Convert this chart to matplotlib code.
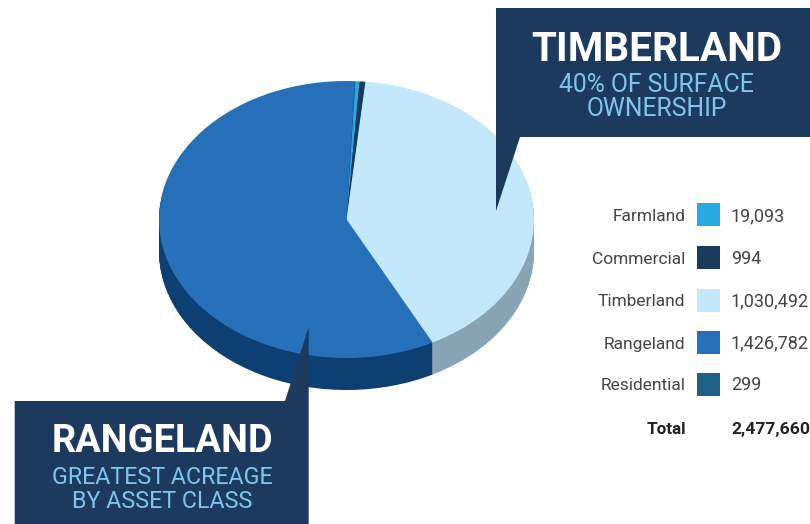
import matplotlib
matplotlib.use("Agg")
import matplotlib.pyplot as plt
import numpy as np
from matplotlib.patches import Polygon, Rectangle

# Legend table
categories = ["Farmland", "Commercial", "Timberland", "Rangeland", "Residential"]
acres_labels = ["19,093", "994", "1,030,492", "1,426,782", "299"]
total_label = "2,477,660"
# Slice sizes as drawn in the picture (degrees)
slice_degrees = [1.3, 1.8, 146.9, 209.9, 0.1]
top_colors = ["#27aae1", "#1c3a5e", "#c3e7fb", "#2670ba", "#1f6089"]
side_colors = ["#1a6f94", "#12263e", "#87a5b5", "#0e3f73", "#144060"]

W, H = 810, 524
NAVY = "#1c3a5e"
SUB = "#7fc4ec"
TXT = "#454545"
plt.rcParams["font.family"] = ["Roboto", "DejaVu Sans"]

fig = plt.figure(figsize=(W / 100, H / 100), dpi=100, facecolor="white")

# Pie axes: 1 data unit = rx px horizontally, ry px vertically
cx, cy, rx, ry, depth = 346.5, 219.5, 187.5, 138.5, 32
margin = 1.3
ax = fig.add_axes([(cx - margin * rx) / W, (H - cy - margin * ry) / H,
                   2 * margin * rx / W, 2 * margin * ry / H])
for px in range(depth, 0, -1):
    ax.pie(slice_degrees, colors=side_colors, startangle=87.3, counterclock=False,
           radius=1, center=(0, -px / ry), wedgeprops={"linewidth": 0})
ax.pie(slice_degrees, colors=top_colors, startangle=87.3, counterclock=False,
       radius=1, center=(0, 0), wedgeprops={"linewidth": 0})
ax.set_aspect("auto")
ax.set_xlim(-margin, margin)
ax.set_ylim(-margin, margin)
ax.axis("off")

# Overlay in pixel coordinates
ov = fig.add_axes([0, 0, 1, 1], facecolor="none")
ov.set_xlim(0, W)
ov.set_ylim(H, 0)
ov.axis("off")

ov.add_patch(Polygon([(496, 8), (810, 8), (810, 137), (520, 137), (496, 211)],
                     closed=True, fc=NAVY, ec="none"))
ov.add_patch(Polygon([(14.7, 401), (285, 401), (308.7, 327), (308.7, 524), (14.7, 524)],
                     closed=True, fc=NAVY, ec="none"))


def px2pt(p):
    return p * 72 / 100


ov.text(657, 60.7, "TIMBERLAND", color="white", fontsize=px2pt(40.5), fontweight="bold",
        ha="center", va="baseline")
ov.text(656.5, 92, "40% OF SURFACE", color=SUB, fontsize=px2pt(24.7), ha="center", va="baseline")
ov.text(656.5, 116, "OWNERSHIP", color=SUB, fontsize=px2pt(24.7), ha="center", va="baseline")
ov.text(162, 452, "RANGELAND", color="white", fontsize=px2pt(38), fontweight="bold",
        ha="center", va="baseline")
ov.text(162, 484, "GREATEST ACREAGE", color=SUB, fontsize=px2pt(23.3), ha="center", va="baseline")
ov.text(162, 508, "BY ASSET CLASS", color=SUB, fontsize=px2pt(23.3), ha="center", va="baseline")

row_y = [214.5, 257, 300, 342, 384]
for name, val, col, y in zip(categories, acres_labels, top_colors, row_y):
    ov.add_patch(Rectangle((697, y - 11.5), 23, 23, fc=col, ec="none"))
    ov.text(685.5, y + 6.5, name, color=TXT, fontsize=px2pt(17.4),
            ha="right", va="baseline")
    ov.text(731, y + 6.5, val, color=TXT, fontsize=px2pt(18),
            ha="left", va="baseline")
ov.text(686, 434, "Total", color="#222222", fontsize=px2pt(17), fontweight="bold",
        ha="right", va="baseline")
ov.text(731, 434, total_label, color="#222222", fontsize=px2pt(17.5), fontweight="bold",
        ha="left", va="baseline")

fig.savefig("out.png", dpi=100, facecolor="white")
